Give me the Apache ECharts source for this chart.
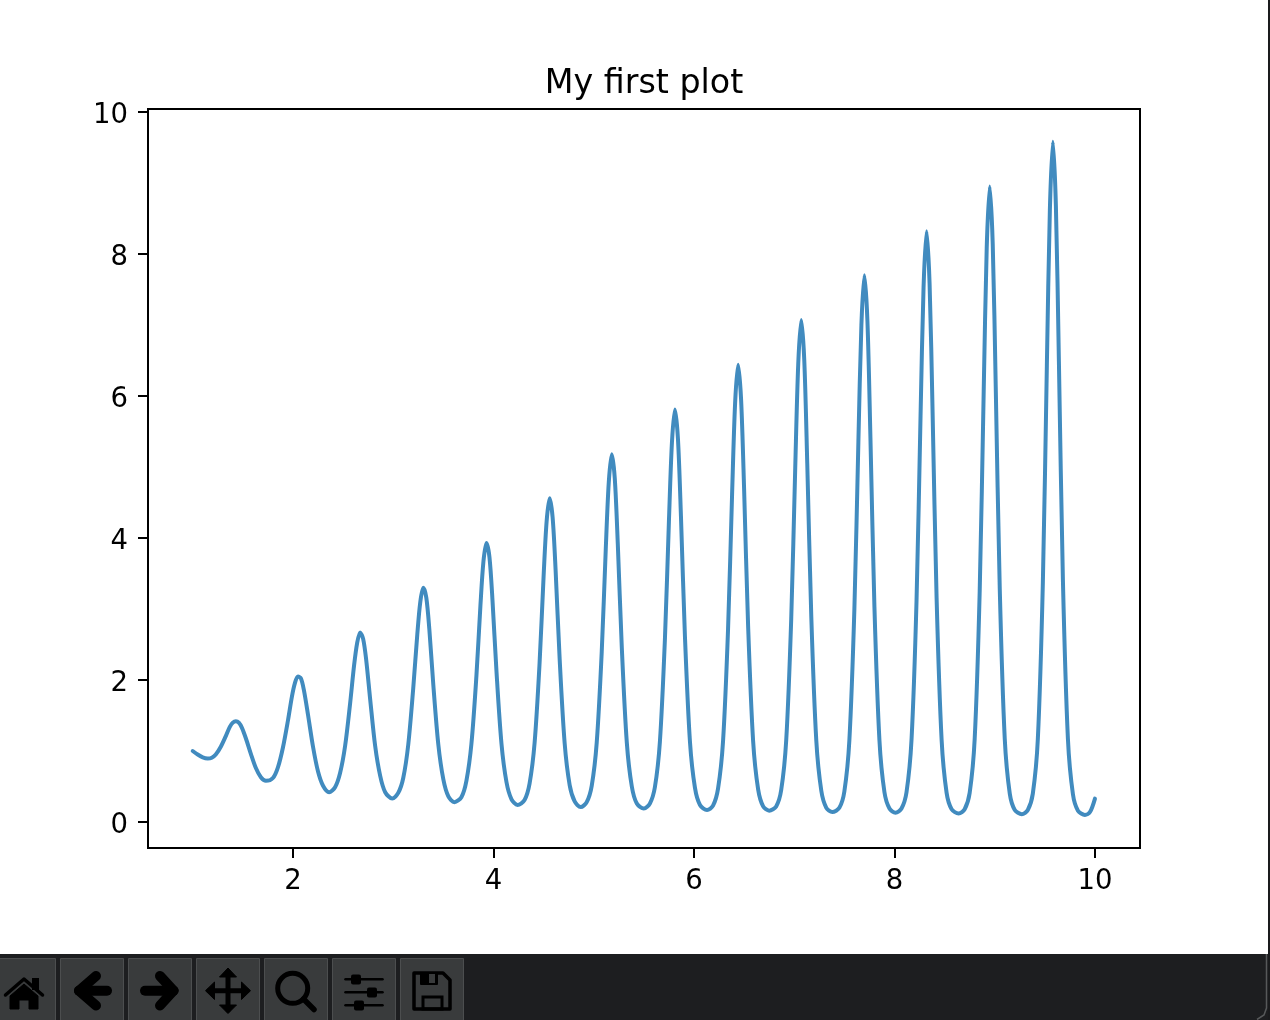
<!DOCTYPE html>
<html>
<head>
<meta charset="utf-8">
<style>html,body{margin:0;padding:0;background:#fff}#chart{width:1270px;height:1020px}</style>
<script src="https://cdn.jsdelivr.net/npm/echarts@6/dist/echarts.min.js"></script>
</head>
<body>
<div id="chart"></div>
<script>
const chartTitle = "My first plot";
const xTicks = [2, 4, 6, 8, 10];
const yTicks = [0, 2, 4, 6, 8, 10];
const xValues = [
  1.00, 1.05, 1.10, 1.15,
  1.19, 1.23, 1.28, 1.33, 1.37, 1.40, 1.43, 1.46, 1.49, 1.53, 1.58, 1.63, 1.68, 1.73,
  1.80, 1.85, 1.90, 1.95, 1.99, 2.02, 2.05, 2.08, 2.11, 2.15, 2.20, 2.25, 2.30, 2.36,
  2.42, 2.47, 2.52, 2.57, 2.61, 2.64, 2.67, 2.70, 2.73, 2.77, 2.82, 2.87, 2.92, 2.99,
  3.05, 3.10, 3.15, 3.20, 3.24, 3.27, 3.30, 3.33, 3.36, 3.40, 3.45, 3.50, 3.55, 3.61,
  3.68, 3.73, 3.78, 3.83, 3.87, 3.90, 3.93, 3.96, 3.99, 4.03, 4.08, 4.13, 4.18, 4.24,
  4.31, 4.36, 4.41, 4.46, 4.50, 4.53, 4.56, 4.59, 4.62, 4.66, 4.71, 4.76, 4.81, 4.87,
  4.93, 4.98, 5.03, 5.08, 5.12, 5.15, 5.18, 5.21, 5.24, 5.28, 5.33, 5.38, 5.43, 5.50,
  5.56, 5.61, 5.66, 5.71, 5.75, 5.78, 5.81, 5.84, 5.87, 5.91, 5.96, 6.01, 6.06, 6.13,
  6.19, 6.24, 6.29, 6.34, 6.38, 6.41, 6.44, 6.47, 6.50, 6.54, 6.59, 6.64, 6.69, 6.75,
  6.82, 6.87, 6.92, 6.97, 7.01, 7.04, 7.07, 7.10, 7.13, 7.17, 7.22, 7.27, 7.32, 7.38,
  7.45, 7.50, 7.55, 7.60, 7.64, 7.67, 7.70, 7.73, 7.76, 7.80, 7.85, 7.90, 7.95, 8.01,
  8.07, 8.12, 8.17, 8.22, 8.26, 8.29, 8.32, 8.35, 8.38, 8.42, 8.47, 8.52, 8.57, 8.64,
  8.70, 8.75, 8.80, 8.85, 8.89, 8.92, 8.95, 8.98, 9.01, 9.05, 9.10, 9.15, 9.20, 9.27,
  9.33, 9.38, 9.43, 9.48, 9.52, 9.55, 9.58, 9.61, 9.64, 9.68, 9.73, 9.78, 9.83, 9.90,
  9.95, 10.00
];
const yValues = [
  1.00, 0.95, 0.91, 0.895,
  0.905, 0.95, 1.06, 1.21, 1.34, 1.40, 1.42, 1.40, 1.33, 1.18, 0.96, 0.76, 0.63, 0.58,
  0.62, 0.77, 1.05, 1.43, 1.77, 1.96, 2.05, 2.02, 1.85, 1.51, 1.06, 0.71, 0.51, 0.42,
  0.49, 0.69, 1.07, 1.67, 2.21, 2.52, 2.67, 2.58, 2.29, 1.73, 1.07, 0.65, 0.42, 0.33,
  0.41, 0.62, 1.09, 1.89, 2.64, 3.10, 3.30, 3.16, 2.72, 1.93, 1.09, 0.60, 0.36, 0.28,
  0.35, 0.58, 1.10, 2.06, 3.05, 3.67, 3.93, 3.73, 3.13, 2.12, 1.10, 0.56, 0.32, 0.24,
  0.31, 0.54, 1.11, 2.24, 3.46, 4.23, 4.56, 4.29, 3.54, 2.30, 1.11, 0.52, 0.29, 0.21,
  0.28, 0.51, 1.12, 2.40, 3.84, 4.78, 5.18, 4.84, 3.92, 2.46, 1.12, 0.50, 0.26, 0.19,
  0.26, 0.49, 1.13, 2.57, 4.23, 5.34, 5.81, 5.40, 4.31, 2.61, 1.13, 0.48, 0.24, 0.17,
  0.23, 0.47, 1.14, 2.72, 4.61, 5.89, 6.44, 5.95, 4.69, 2.76, 1.14, 0.46, 0.22, 0.16,
  0.22, 0.45, 1.15, 2.86, 4.99, 6.45, 7.07, 6.51, 5.05, 2.90, 1.15, 0.44, 0.20, 0.14,
  0.20, 0.43, 1.15, 3.00, 5.36, 7.00, 7.70, 7.06, 5.42, 3.03, 1.15, 0.42, 0.19, 0.13,
  0.19, 0.42, 1.16, 3.12, 5.72, 7.53, 8.32, 7.59, 5.78, 3.16, 1.16, 0.41, 0.18, 0.12,
  0.18, 0.41, 1.17, 3.25, 6.07, 8.08, 8.95, 8.14, 6.13, 3.29, 1.17, 0.40, 0.17, 0.11,
  0.17, 0.40, 1.17, 3.37, 6.43, 8.62, 9.58, 8.68, 6.49, 3.41, 1.17, 0.39, 0.16, 0.10,
  0.14, 0.33
];
const linePoints = xValues.map((x, i) => [x, yValues[i]]);

const FONT = '"DejaVu Sans"';
const BAND = '#1d1e20', BTN = '#393b3c', BTN_EDGE = '#4c4e4f', INK = '#000';
const buttonRanges = [[-2, 56], [60, 124], [128, 192], [196, 260], [264, 328], [332, 396], [400, 464]];

function stroke(points, w) {
  return {type: 'polyline', shape: {points}, style: {fill: 'none', stroke: INK, lineWidth: w, lineCap: 'round', lineJoin: 'round'}};
}
function fillPoly(points) {
  return {type: 'polygon', shape: {points}, style: {fill: INK, stroke: INK, lineWidth: 1, lineJoin: 'round'}};
}
function box(x, y, w, h, r) {
  return {type: 'rect', shape: {x, y, width: w, height: h, r: r || 0}, style: {fill: INK}};
}
const toolbar = [
  {type: 'rect', shape: {x: 0, y: 954, width: 1270, height: 66}, style: {fill: BAND}},
  ...buttonRanges.map(([a, b]) => ({type: 'rect', shape: {x: a + 0.5, y: 958.5, width: b - a - 1, height: 70},
    style: {fill: BTN, stroke: BTN_EDGE, lineWidth: 1}})),
  // home
  stroke([[5.5, 995], [24, 979], [42.5, 995]], 3.5),
  box(32, 978, 7, 12),
  fillPoly([[24, 984], [38, 996], [38, 1009], [29, 1009], [29, 1000], [19, 1000], [19, 1009], [10, 1009], [10, 996]]),
  // back
  stroke([[96, 976], [79, 990.7], [96, 1005.5]], 10),
  stroke([[79, 990.7], [107, 990.7]], 10),
  // forward
  stroke([[160, 976], [173.5, 990.7], [160, 1005.5]], 10),
  stroke([[145, 990.7], [173.5, 990.7]], 10),
  // move
  stroke([[228, 972], [228, 1010]], 5),
  stroke([[209, 990.7], [247, 990.7]], 5),
  fillPoly([[228, 968], [219.5, 977], [236.5, 977]]),
  fillPoly([[228, 1013.5], [219.5, 1005], [236.5, 1005]]),
  fillPoly([[205.5, 990.7], [214.5, 982], [214.5, 999.5]]),
  fillPoly([[250.5, 990.7], [241.5, 982], [241.5, 999.5]]),
  // zoom
  {type: 'circle', shape: {cx: 292.7, cy: 988.3, r: 15}, style: {fill: 'none', stroke: INK, lineWidth: 5}},
  stroke([[303.5, 999], [314, 1009.5]], 5.5),
  // sliders
  stroke([[345.5, 979.3], [382.5, 979.3]], 2.5),
  stroke([[345.5, 992.3], [382.5, 992.3]], 2.5),
  stroke([[345.5, 1005.3], [382.5, 1005.3]], 2.5),
  box(351, 974.5, 10, 10, 2),
  box(367, 987.5, 10, 10, 2),
  box(354, 1000.5, 10, 10, 2),
  // save
  {type: 'polygon', shape: {points: [[414, 973], [443, 973], [450, 980], [450, 1009], [414, 1009]]},
    style: {fill: 'none', stroke: INK, lineWidth: 3.5, lineJoin: 'round'}},
  box(420, 973, 18, 12, 1),
  {type: 'rect', shape: {x: 429, y: 974, width: 6, height: 9}, style: {fill: BTN}},
  {type: 'rect', shape: {x: 423, y: 997, width: 19, height: 12}, style: {fill: 'none', stroke: INK, lineWidth: 3}},
  // window edge
  {type: 'rect', shape: {x: 1268, y: 0, width: 2, height: 1020}, style: {fill: '#1a1b1d'}},
  {type: 'polyline', shape: {points: [[1266.5, 954], [1266.5, 1008], [1264, 1015], [1257, 1019.5]]},
    style: {fill: 'none', stroke: '#57595a', lineWidth: 1.5}}
];

const chart = echarts.init(document.getElementById('chart'), null, {renderer: 'canvas'});
chart.setOption({
  animation: false,
  backgroundColor: '#fff',
  textStyle: {fontFamily: FONT},
  title: {
    text: chartTitle, left: 639, top: 63, textAlign: 'center',
    textStyle: {fontFamily: FONT, fontSize: 33.3, fontWeight: 'normal', color: '#000'}
  },
  grid: {left: 148, top: 109, width: 992, height: 739, show: true, borderColor: '#000', borderWidth: 2, backgroundColor: 'transparent', containLabel: false},
  xAxis: {
    type: 'value', min: 0.554, max: 10.449,
    splitLine: {show: false},
    axisLine: {show: true, onZero: false, lineStyle: {color: '#000', width: 2}},
    axisTick: {show: true, length: 10, lineStyle: {color: '#000', width: 2}, customValues: xTicks},
    axisLabel: {color: '#000', fontSize: 27.5, fontFamily: FONT, margin: 20, customValues: xTicks, formatter: v => String(v)}
  },
  yAxis: {
    type: 'value', min: -0.366, max: 10.042,
    splitLine: {show: false},
    axisLine: {show: true, onZero: false, lineStyle: {color: '#000', width: 2}},
    axisTick: {show: true, length: 10, lineStyle: {color: '#000', width: 2}, customValues: yTicks},
    axisLabel: {
      margin: 20, customValues: yTicks, formatter: v => '{t|' + v + '}',
      rich: {t: {color: '#000', fontSize: 27.5, fontFamily: FONT, padding: [7, 0, 0, 0]}}
    }
  },
  series: [{
    type: 'line', data: linePoints, showSymbol: false, smooth: 0.3, silent: true,
    lineStyle: {color: '#418bbf', width: 4, cap: 'round', join: 'round'}
  }],
  graphic: {elements: toolbar.map(e => Object.assign({silent: true}, e))}
});
</script>
</body>
</html>
